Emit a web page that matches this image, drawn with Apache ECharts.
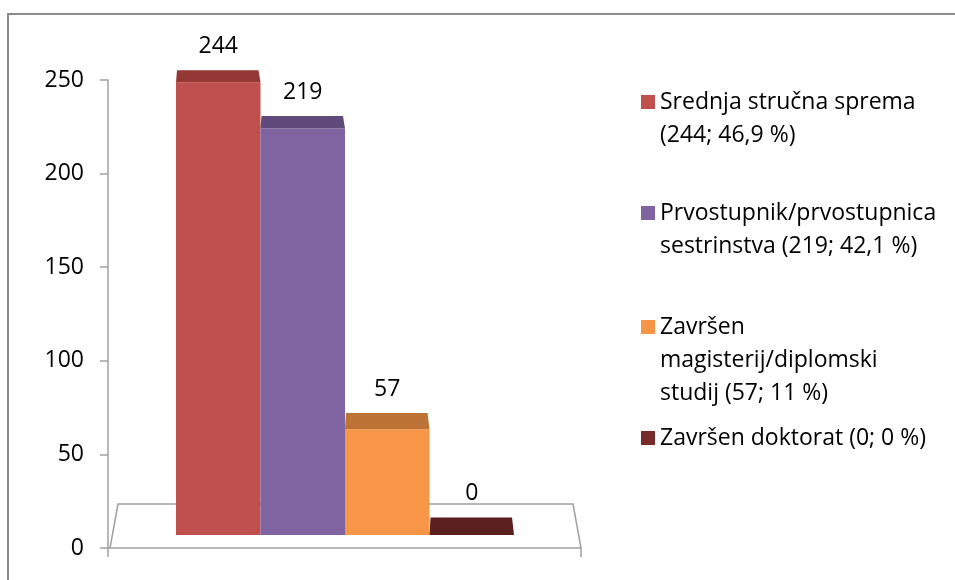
<!DOCTYPE html>
<html>
<head>
<meta charset="utf-8">
<script src="https://cdn.jsdelivr.net/npm/echarts@6/dist/echarts.min.js"></script>
<style>
  html, body { margin: 0; padding: 0; background: #fff; }
  #chart { width: 955px; height: 580px; }
</style>
</head>
<body>
<div id="chart"></div>
<script>
// razina obrazovanja
const categories = ['Srednja stručna sprema', 'Prvostupnik/prvostupnica sestrinstva', 'Završen magisterij/diplomski studij', 'Završen doktorat'];
const counts = [244, 219, 57, 0];
const legendTexts = [
  'Srednja stručna sprema\n(244; 46,9 %)',
  'Prvostupnik/prvostupnica\nsestrinstva (219; 42,1 %)',
  'Završen\nmagisterij/diplomski\nstudij (57; 11 %)',
  'Završen doktorat (0; 0 %)'
];
const yTicks = [0, 50, 100, 150, 200, 250];

const frontColors = ['#C0504D', '#8064A2', '#F79646', '#772C2A'];
const topColors = ['#953735', '#604A7B', '#BD7335', '#5C1F1F'];
const FONT = '"Open Sans", sans-serif';
const FONT_SIZE = 23;
const LINE_H = 33;
// first-line centre of every legend entry
const legendRows = [102, 213, 327, 438];

const chart = echarts.init(document.getElementById('chart'));

function renderBar(i) {
  return function (params, api) {
    const base = api.coord([api.value(0), 0]);
    const top = api.coord([api.value(0), api.value(1)]);
    const w = api.size([1, 0])[0];
    // top face gets a bit deeper lower in the plot (perspective)
    const d = 12 + (top[1] - 82) * 0.0121;
    const x0 = base[0] - w / 2;
    return {
      type: 'group',
      children: [
        {
          type: 'rect',
          shape: { x: x0, y: top[1], width: w, height: base[1] - top[1] },
          style: { fill: frontColors[i] }
        },
        {
          type: 'polygon',
          shape: { points: [[x0, top[1]], [x0 + 1, top[1] - d], [x0 + w - 2, top[1] - d], [x0 + w, top[1]]] },
          style: { fill: topColors[i] }
        },
        {
          type: 'text',
          x: base[0],
          y: top[1] - d - 24,
          style: {
            text: String(api.value(1)),
            textAlign: 'center',
            textVerticalAlign: 'middle',
            fill: '#000',
            font: FONT_SIZE + 'px ' + FONT
          }
        }
      ]
    };
  };
}

const series = categories.map((name, i) => ({
  name: name,
  type: 'custom',
  xAxisIndex: 1,
  yAxisIndex: 1,
  itemStyle: { color: frontColors[i] },
  renderItem: renderBar(i),
  data: [[i, counts[i]]],
  z: 3
}));

const legends = categories.map((name, i) => {
  const lines = legendTexts[i].split('\n').length;
  // pad with empty lines on top so the marker sits next to the first line
  const pad = '\n'.repeat(lines - 1);
  return {
    data: [name],
    left: 641,
    top: legendRows[i] - LINE_H / 2 * (2 * lines - 1),
    padding: 0,
    orient: 'vertical',
    icon: 'rect',
    itemWidth: 14,
    itemHeight: 14,
    selectedMode: false,
    formatter: () => pad + legendTexts[i],
    textStyle: {
      fontFamily: FONT,
      fontSize: FONT_SIZE,
      lineHeight: LINE_H,
      color: '#000'
    }
  };
});

const option = {
  animation: false,
  backgroundColor: '#fff',
  textStyle: { fontFamily: FONT },
  grid: [
    { left: 108, right: 374, top: 80, bottom: 32 },
    { left: 176, right: 441, top: 71, bottom: 45 }
  ],
  xAxis: [
    {
      type: 'category',
      gridIndex: 0,
      data: [''],
      axisLine: { lineStyle: { color: '#a0a0a0', width: 1.5 } },
      axisTick: { show: true, length: 9, lineStyle: { color: '#a0a0a0', width: 1.5 } },
      axisLabel: { show: false }
    },
    {
      type: 'category',
      gridIndex: 1,
      data: categories,
      show: false
    }
  ],
  yAxis: [
    {
      type: 'value',
      gridIndex: 0,
      min: yTicks[0],
      max: yTicks[yTicks.length - 1],
      interval: 50,
      axisLine: { show: true, lineStyle: { color: '#a0a0a0', width: 1.5 } },
      axisTick: { show: true, length: 8, lineStyle: { color: '#a0a0a0', width: 1.5 } },
      splitLine: { show: false },
      axisLabel: { margin: 24, fontSize: FONT_SIZE, color: '#000', fontFamily: FONT }
    },
    {
      type: 'value',
      gridIndex: 1,
      min: 0,
      max: 250,
      show: false
    }
  ],
  legend: legends,
  graphic: [
    {
      type: 'rect',
      z: -1,
      shape: { x: 8, y: 14, width: 1200, height: 1000 },
      style: { fill: null, stroke: '#8a8a8a', lineWidth: 2 }
    },
    {
      // floor of the 3d plot
      type: 'polyline',
      z: 0,
      shape: { points: [[110, 548], [118, 504], [573, 504], [581, 548]] },
      style: { fill: null, stroke: '#a0a0a0', lineWidth: 1.5 }
    }
  ],
  series: series
};

chart.setOption(option);
window.addEventListener('resize', () => chart.resize());
</script>
</body>
</html>
